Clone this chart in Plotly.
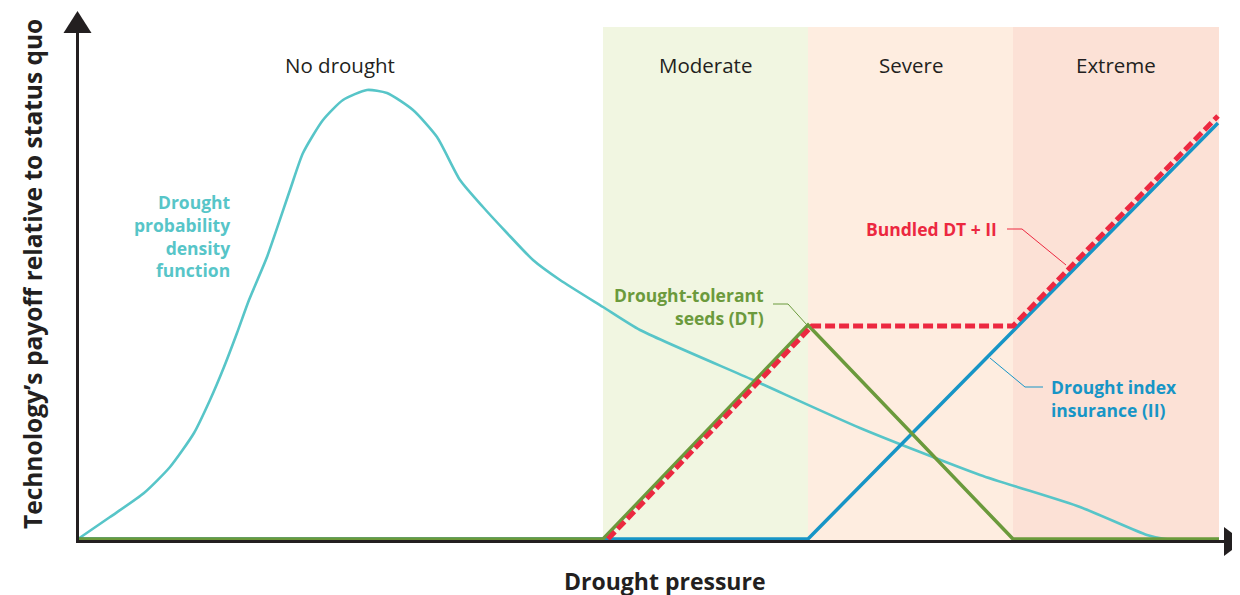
import plotly.graph_objects as go

# ---- data (x: drought pressure units from the origin, y: payoff units above the axis) ----
zone_names = ["No drought", "Moderate", "Severe", "Extreme"]
zone_edges = [0, 526, 731, 936, 1142]
zone_colors = [None, "#f1f6e1", "#feede0", "#fce1d6"]
zone_top = 514

pdf_x = [1, 33, 67, 93, 117, 133, 147, 160, 172, 190, 213, 226, 246, 266, 290, 310, 336,
         360, 383, 406, 430, 456, 483, 526, 563, 676, 783, 903, 1003, 1070, 1088, 1142]
pdf_y = [2, 24, 48, 74, 108, 141, 174, 208, 241, 284, 351, 388, 421, 441, 451, 448, 431,
         404, 361, 334, 308, 281, 261, 234, 211, 161, 113, 66, 34, 6, 2, 2]

dt_x = [0, 526, 731, 936, 1142]
dt_y = [2, 2, 216, 2, 2]

ii_x = [0, 731, 1141]
ii_y = [2, 2, 418]

bundle_x = [531, 735, 936, 1141]
bundle_y = [2, 215, 215, 425]

C_TEAL = "#57c5c8"
C_GREEN = "#6b9a3c"
C_BLUE = "#1795c6"
C_RED = "#ec2840"
C_INK = "#231f20"
FONT = "Open Sans"

fig = go.Figure()

fig.add_trace(go.Scatter(x=pdf_x, y=pdf_y, mode="lines", line=dict(color=C_TEAL, width=2.6, shape="spline", smoothing=0.6), hoverinfo="skip"))
fig.add_trace(go.Scatter(x=ii_x, y=ii_y, mode="lines", line=dict(color=C_BLUE, width=3.5), hoverinfo="skip"))
fig.add_trace(go.Scatter(x=dt_x, y=dt_y, mode="lines", line=dict(color=C_GREEN, width=3.5), hoverinfo="skip"))
fig.add_trace(go.Scatter(x=bundle_x, y=bundle_y, mode="lines", line=dict(color=C_RED, width=5, dash="10px,4px"), hoverinfo="skip"))

shapes = []
for i in range(1, 4):
    shapes.append(dict(type="rect", xref="x", yref="y", x0=zone_edges[i], x1=zone_edges[i + 1], y0=0, y1=zone_top,
                       fillcolor=zone_colors[i], line=dict(width=0), layer="below"))

# axes with arrow heads
shapes.append(dict(type="line", xref="x", yref="y", x0=0.5, x1=0.5, y0=-1.5, y1=512, line=dict(color=C_INK, width=3)))
shapes.append(dict(type="line", xref="x", yref="y", x0=-1, x1=1150, y0=-0.5, y1=-0.5, line=dict(color=C_INK, width=3)))
shapes.append(dict(type="path", xref="x", yref="y", path="M 0.5 530 L -13.5 508 L 14.5 508 Z", fillcolor=C_INK, line=dict(width=0)))
shapes.append(dict(type="path", xref="x", yref="y", path="M 1166 -0.5 L 1147 14 L 1147 -15 Z", fillcolor=C_INK, line=dict(width=0)))

# leader lines
shapes.append(dict(type="path", xref="x", yref="y", path="M 696 237 L 711 237 L 730 216", line=dict(color=C_GREEN, width=1)))
shapes.append(dict(type="path", xref="x", yref="y", path="M 930 312 L 945 312 L 989 276", line=dict(color=C_RED, width=1)))
shapes.append(dict(type="path", xref="x", yref="y", path="M 913 183 L 948 154 L 966 154", line=dict(color=C_BLUE, width=1)))

annotations = []
for i, name in enumerate(zone_names):
    annotations.append(dict(x=(zone_edges[i] + zone_edges[i + 1]) / 2, y=476, text=name, showarrow=False,
                            font=dict(family=FONT, size=20.5, color=C_INK), xanchor="center", yanchor="middle"))

annotations.append(dict(x=156, y=305, text="<b>Drought<br>probability<br>density<br>function</b>", showarrow=False,
                        align="right", xanchor="right", yanchor="middle", font=dict(family=FONT, size=17.5, color=C_TEAL)))
annotations.append(dict(x=689, y=235, text="<b>Drought-tolerant<br>seeds (DT)</b>", showarrow=False,
                        align="right", xanchor="right", yanchor="middle", font=dict(family=FONT, size=17.5, color=C_GREEN)))
annotations.append(dict(x=922, y=312, text="<b>Bundled DT + II</b>", showarrow=False,
                        align="right", xanchor="right", yanchor="middle", font=dict(family=FONT, size=17.5, color=C_RED)))
annotations.append(dict(x=972, y=143, text="<b>Drought index<br>insurance (II)</b>", showarrow=False,
                        align="left", xanchor="left", yanchor="middle", font=dict(family=FONT, size=17.5, color=C_BLUE)))

annotations.append(dict(x=588, y=-39.5, text="<b>Drought pressure</b>", showarrow=False,
                        xanchor="center", yanchor="middle", font=dict(family=FONT, size=23, color=C_INK)))
annotations.append(dict(x=-45, y=267, text="<b>Technology’s payoff relative to status quo</b>", showarrow=False,
                        textangle=-90, xanchor="center", yanchor="middle", font=dict(family=FONT, size=24.5, color=C_INK)))

fig.update_layout(
    width=1240, height=595,
    margin=dict(l=0, r=0, t=0, b=0),
    paper_bgcolor="white", plot_bgcolor="white",
    showlegend=False,
    shapes=shapes, annotations=annotations,
    xaxis=dict(range=[-69, 1171], visible=False, fixedrange=True),
    yaxis=dict(range=[-62, 533], visible=False, fixedrange=True),
)

fig.write_html("out.html")
